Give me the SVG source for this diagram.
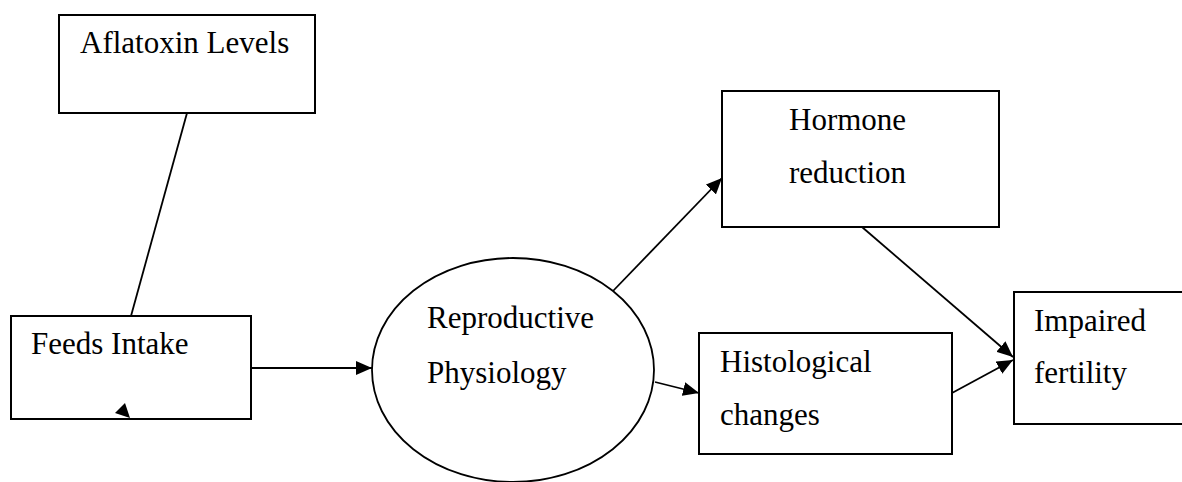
<svg xmlns="http://www.w3.org/2000/svg" width="1182" height="482" viewBox="0 0 1182 482">
<style>
.box{fill:#fff;stroke:#000;stroke-width:2}
.lbl{font-family:"Liberation Serif","Times New Roman",serif;font-size:31px;fill:#000}
.con{stroke:#000;stroke-width:1.8;fill:none}
</style>
<defs>
<marker id="ah" viewBox="0 0 16 14" refX="16" refY="7" markerWidth="16" markerHeight="14" markerUnits="userSpaceOnUse" orient="auto">
<path d="M0,0 L16,7 L0,14 Z" fill="#000"/>
</marker>
</defs>
<rect width="1182" height="482" fill="#fff"/>
<g id="connectors">
<line class="con" x1="187" y1="113" x2="131" y2="316"/>
<line class="con" x1="251" y1="368" x2="372" y2="368" marker-end="url(#ah)"/>
<line class="con" x1="613" y1="291" x2="722" y2="178" marker-end="url(#ah)"/>
<line class="con" x1="655" y1="382" x2="699" y2="393" marker-end="url(#ah)"/>
<line class="con" x1="862" y1="227" x2="1013" y2="357" marker-end="url(#ah)"/>
<line class="con" x1="952" y1="393" x2="1013" y2="360" marker-end="url(#ah)"/>
</g>
<g id="aflatoxin">
<rect class="box" x="59" y="15" width="256" height="98"/>
<text class="lbl" x="80" y="53">Aflatoxin Levels</text>
</g>
<g id="feeds">
<rect class="box" x="11" y="316" width="240" height="103"/>
<text class="lbl" x="31" y="354">Feeds Intake</text>
<polygon points="115,413 125,403 130,418" fill="#000"/>
</g>
<g id="reproductive">
<ellipse cx="513" cy="370" rx="141" ry="112" fill="#fff" stroke="#000" stroke-width="1.8"/>
<text class="lbl" x="427" y="328">Reproductive</text>
<text class="lbl" x="427" y="383">Physiology</text>
</g>
<g id="hormone">
<rect class="box" x="722" y="91" width="277" height="136"/>
<text class="lbl" x="789" y="130">Hormone</text>
<text class="lbl" x="789" y="183">reduction</text>
</g>
<g id="histological">
<rect class="box" x="699" y="333" width="253" height="121"/>
<text class="lbl" x="720" y="372">Histological</text>
<text class="lbl" x="720" y="425">changes</text>
</g>
<g id="impaired">
<rect class="box" x="1014" y="292" width="200" height="132"/>
<text class="lbl" x="1034" y="331">Impaired</text>
<text class="lbl" x="1034" y="383">fertility</text>
</g>
</svg>
